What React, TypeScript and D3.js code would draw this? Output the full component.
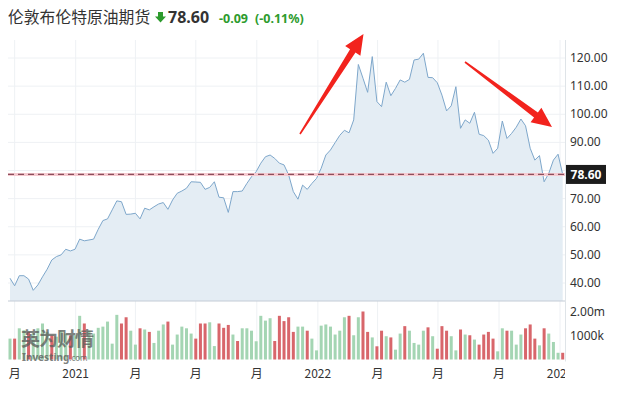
import React, { useEffect, useRef } from 'react';
import * as d3 from 'd3';

// weekly closes, Brent futures
const prices = [
  41.7, 39.0, 42.6, 42.6, 41.4, 37.4, 39.3, 42.2, 44.9, 48.2,
  49.4, 50.0, 52.0, 51.4, 52.0, 55.6, 55.0, 55.3, 55.6, 59.1,
  62.2, 62.8, 66.0, 69.2, 68.9, 64.4, 64.5, 64.8, 62.8, 66.6,
  66.0, 67.1, 68.1, 68.6, 66.2, 69.5, 71.9, 72.7, 73.7, 76.0,
  75.9, 75.8, 73.3, 74.0, 76.0, 70.5, 70.3, 65.1, 72.5, 72.5,
  72.7, 75.4, 77.8, 79.6, 82.6, 84.9, 85.5, 84.3, 82.6, 82.0,
  78.4, 72.5, 69.8, 74.8, 73.3, 75.4, 77.2, 80.8, 85.5, 87.3,
  89.9, 92.5, 94.3, 93.4, 98.0, 117.7, 112.8, 107.8, 120.5, 104.5,
  102.7, 111.4, 106.6, 109.2, 112.2, 111.4, 112.4, 119.3, 119.6, 121.7,
  113.1, 113.0, 111.2, 106.8, 101.2, 103.0, 109.8, 95.0, 98.0, 96.8,
  100.7, 92.9, 92.4, 90.8, 86.1, 87.9, 97.6, 91.4, 93.2, 95.4,
  98.3, 95.9, 87.9, 83.7, 85.3, 76.0, 79.0, 83.7, 85.8, 78.6,
];

// weekly volume in millions
const volumes = [
  0.87, 0.87, 1.3, 1.22, 1.15, 1.1, 1.3, 1.5, 1.15, 1.0,
  0.95, 1.2, 1.08, 1.0, 1.01, 1.82, 1.5, 1.2, 1.08, 1.32,
  1.37, 1.58, 0.66, 1.86, 1.5, 1.76, 1.2, 0.62, 1.3, 1.25,
  1.15, 0.69, 1.2, 1.46, 1.58, 0.62, 1.04, 1.37, 1.3, 1.08,
  0.87, 1.5, 1.5, 1.55, 0.56, 1.5, 1.32, 1.44, 1.04, 0.77,
  1.3, 1.3, 1.2, 0.76, 1.82, 1.62, 1.72, 0.77, 1.82, 1.6,
  1.76, 1.15, 1.37, 1.37, 1.2, 0.87, 0.38, 1.41, 1.46, 1.37,
  1.04, 1.2, 1.76, 1.82, 1.01, 1.76, 2.0, 1.15, 0.92, 0.55,
  1.2, 0.97, 0.92, 0.41, 1.08, 1.39, 1.2, 0.69, 0.62, 1.2,
  1.34, 0.97, 0.45, 1.39, 1.2, 0.97, 0.38, 1.25, 1.04, 1.01,
  0.83, 0.62, 1.04, 1.15, 0.87, 0.34, 1.3, 1.2, 1.2, 0.62,
  1.04, 1.3, 1.46, 0.87, 0.59, 1.3, 1.08, 0.73, 0.28, 0.28,
];

// u = up (green), d = down (red)
const volumeDir = [
  'u', 'd', 'u', 'u', 'd', 'u', 'u', 'u', 'u', 'd',
  'u', 'u', 'u', 'd', 'u', 'u', 'd', 'u', 'u', 'u',
  'u', 'u', 'u', 'u', 'd', 'd', 'u', 'u', 'd', 'u',
  'd', 'u', 'u', 'u', 'd', 'u', 'u', 'u', 'u', 'u',
  'd', 'd', 'd', 'u', 'u', 'd', 'd', 'd', 'u', 'd',
  'u', 'u', 'u', 'u', 'u', 'u', 'u', 'd', 'd', 'd',
  'd', 'd', 'u', 'u', 'd', 'u', 'u', 'u', 'u', 'u',
  'u', 'u', 'u', 'd', 'u', 'u', 'd', 'd', 'u', 'd',
  'd', 'u', 'd', 'u', 'u', 'd', 'u', 'u', 'u', 'u',
  'd', 'u', 'd', 'd', 'd', 'u', 'u', 'd', 'u', 'd',
  'u', 'd', 'd', 'd', 'd', 'u', 'u', 'd', 'u', 'u',
  'u', 'd', 'd', 'd', 'u', 'd', 'u', 'u', 'u', 'd',
];

const priceTicks = [40, 50, 60, 70, 80, 90, 100, 110, 120];
// 80.00 sits under the last-price tag, so it is not written
const priceLabelTicks = [40, 50, 60, 70, 90, 100, 110, 120];
const volTicks = [1, 2];
const volTickLabels = ['1000k', '2.00m'];
const quarterTicks = [
  '2020-10-01', '2021-01-01', '2021-04-01', '2021-07-01', '2021-10-01',
  '2022-01-01', '2022-04-01', '2022-07-01', '2022-10-01', '2023-01-01',
];
const quarterLabels = ['月', '2021', '月', '月', '月', '2022', '月', '月', '月', '2023'];

const lastPrice = 78.6;
const titleText = '伦敦布伦特原油期货';
const firstWeek = new Date(2020, 8, 24);

function arrowPath(x1, y1, x2, y2) {
  const dx = x2 - x1, dy = y2 - y1;
  const len = Math.sqrt(dx * dx + dy * dy);
  const ux = dx / len, uy = dy / len;
  const nx = -uy, ny = ux;
  const headLen = 20, headW = 9, tailW = 0.8, neckW = 3.2;
  const bx = x2 - ux * headLen, by = y2 - uy * headLen;
  const pts = [
    [x1 + nx * tailW, y1 + ny * tailW],
    [bx + nx * neckW, by + ny * neckW],
    [bx + nx * headW, by + ny * headW],
    [x2, y2],
    [bx - nx * headW, by - ny * headW],
    [bx - nx * neckW, by - ny * neckW],
    [x1 - nx * tailW, y1 - ny * tailW],
  ];
  return 'M' + pts.map(p => p.join(',')).join('L') + 'Z';
}

export default function App() {
  const ref = useRef(null);

  useEffect(() => {
    document.body.style.margin = '0';
    const svg = d3.select(ref.current);
    svg.selectAll('*').remove();

    const left = 8, right = 565;
    const priceTop = 40, priceBottom = 301;
    const volBottom = 359.5;

    const dates = prices.map((_, i) => d3.timeWeek.offset(firstWeek, i));
    const x = d3.scaleTime()
      .domain([dates[0], dates[dates.length - 1]])
      .range([10, 562.7]);
    const y = d3.scaleLinear().domain([40, 120]).range([283, 58]);
    const yv = d3.scaleLinear().domain([0, 2]).range([volBottom, 311.5]);

    const axisFont = '"Noto Sans", "DejaVu Sans", sans-serif';

    const defs = svg.append('defs');
    defs.append('clipPath').attr('id', 'plotclip')
      .append('rect').attr('x', left).attr('y', 0).attr('width', right - left).attr('height', 394);

    // grid
    const grid = svg.append('g');
    grid.selectAll('line.h').data(priceTicks).enter().append('line')
      .attr('x1', left).attr('x2', right)
      .attr('y1', d => y(d)).attr('y2', d => y(d))
      .attr('stroke', '#eef1f4').attr('stroke-width', 1);
    grid.selectAll('line.v').data(quarterTicks).enter().append('line')
      .attr('x1', d => x(new Date(d))).attr('x2', d => x(new Date(d)))
      .attr('y1', priceTop).attr('y2', volBottom + 1)
      .attr('stroke', '#eef1f4').attr('stroke-width', 1);

    // price area + line
    const area = d3.area()
      .x((d, i) => x(dates[i]))
      .y0(priceBottom)
      .y1(d => y(d));
    const line = d3.line()
      .x((d, i) => x(dates[i]))
      .y(d => y(d));
    svg.append('path').datum(prices)
      .attr('d', area)
      .attr('fill', '#e4edf4');
    svg.append('path').datum(prices)
      .attr('d', line)
      .attr('fill', 'none')
      .attr('stroke', '#7ea7cb')
      .attr('stroke-width', 1);

    // last price line
    svg.append('line')
      .attr('x1', left).attr('x2', right)
      .attr('y1', y(lastPrice)).attr('y2', y(lastPrice))
      .attr('stroke', '#f6c9cf').attr('stroke-width', 3);
    svg.append('line')
      .attr('x1', left).attr('x2', right)
      .attr('y1', y(lastPrice)).attr('y2', y(lastPrice))
      .attr('stroke', '#8a4f5c').attr('stroke-width', 1.2)
      .attr('stroke-dasharray', '6,4');

    // panel borders
    svg.append('line')
      .attr('x1', left).attr('x2', right)
      .attr('y1', priceBottom).attr('y2', priceBottom)
      .attr('stroke', '#c3ccd5').attr('stroke-width', 1.2);
    svg.append('line')
      .attr('x1', right + 0.5).attr('x2', right + 0.5)
      .attr('y1', priceTop).attr('y2', volBottom + 2)
      .attr('stroke', '#dfe4e8').attr('stroke-width', 1);

    // volume bars
    svg.append('g').selectAll('rect').data(volumes).enter().append('rect')
      .attr('x', (d, i) => x(dates[i]) - 1.5)
      .attr('width', 3)
      .attr('y', d => yv(d))
      .attr('height', d => volBottom - yv(d))
      .attr('fill', (d, i) => volumeDir[i] === 'u' ? '#a4d5b3' : '#d8666b');

    // watermark
    const wm = svg.append('g').attr('opacity', 0.78);
    wm.append('text')
      .attr('x', 21).attr('y', 346)
      .attr('font-family', '"Noto Sans CJK SC", sans-serif')
      .attr('font-weight', 'bold')
      .attr('font-size', 19)
      .attr('fill', '#5b5f5c')
      .attr('letter-spacing', -1)
      .text('英为财情');
    wm.append('text')
      .attr('x', 22).attr('y', 361)
      .attr('font-family', '"Noto Sans", sans-serif')
      .attr('font-weight', 'bold')
      .attr('font-size', 10)
      .attr('fill', '#5b5f5c')
      .text('Investing')
      .append('tspan')
      .attr('font-weight', 'normal')
      .attr('font-size', 8)
      .text('.com');

    // right axis labels
    svg.append('g').selectAll('text').data(priceLabelTicks).enter().append('text')
      .attr('x', 570).attr('y', d => y(d) + 4)
      .attr('font-family', axisFont).attr('font-size', 12)
      .attr('fill', '#333')
      .text(d => d.toFixed(2));
    svg.append('g').selectAll('text').data(volTicks).enter().append('text')
      .attr('x', 570).attr('y', d => yv(d) + 4)
      .attr('font-family', axisFont).attr('font-size', 12)
      .attr('fill', '#333')
      .text((d, i) => volTickLabels[i]);

    // last price tag
    svg.append('rect')
      .attr('x', 566).attr('y', y(lastPrice) - 9.5)
      .attr('width', 40).attr('height', 19)
      .attr('fill', '#1c1c1c');
    svg.append('text')
      .attr('x', 586).attr('y', y(lastPrice) + 4.5)
      .attr('text-anchor', 'middle')
      .attr('font-family', axisFont).attr('font-size', 12).attr('font-weight', 'bold')
      .attr('fill', '#fff')
      .text(lastPrice.toFixed(2));

    // bottom axis labels
    svg.append('g').attr('clip-path', 'url(#plotclip)')
      .selectAll('text').data(quarterTicks).enter().append('text')
      .attr('x', d => x(new Date(d))).attr('y', 378)
      .attr('text-anchor', 'middle')
      .attr('font-family', '"Noto Sans CJK SC", ' + axisFont).attr('font-size', 12)
      .attr('fill', '#333')
      .text((d, i) => quarterLabels[i]);

    // title
    svg.append('text')
      .attr('x', 8).attr('y', 23)
      .attr('font-family', '"Noto Sans CJK SC", sans-serif')
      .attr('font-size', 15.8)
      .attr('fill', '#333')
      .text(titleText);
    svg.append('path')
      .attr('d', 'M158,12 L163,12 L163,16.5 L166,16.5 L160.5,22.5 L155,16.5 L158,16.5 Z')
      .attr('fill', '#2d9b2d');
    svg.append('text')
      .attr('x', 168).attr('y', 23)
      .attr('font-family', '"Noto Sans", "DejaVu Sans", sans-serif')
      .attr('font-size', 16).attr('font-weight', 'bold')
      .attr('fill', '#333')
      .text(lastPrice.toFixed(2));
    svg.append('text')
      .attr('x', 219).attr('y', 22.5)
      .attr('font-family', '"Noto Sans", "DejaVu Sans", sans-serif')
      .attr('font-size', 12.5).attr('font-weight', 'bold')
      .attr('fill', '#2d9b2d')
      .text('-0.09')
      .append('tspan')
      .attr('x', 255)
      .text('(-0.11%)');

    // annotation arrows
    svg.append('path').attr('d', arrowPath(300, 134, 363.5, 34)).attr('fill', '#f2231d');
    svg.append('path').attr('d', arrowPath(465, 62, 552, 127)).attr('fill', '#f2231d');
  }, []);

  return (
    <svg
      ref={ref}
      width={620}
      height={394}
      style={{ display: 'block', background: '#fff' }}
    />
  );
}
